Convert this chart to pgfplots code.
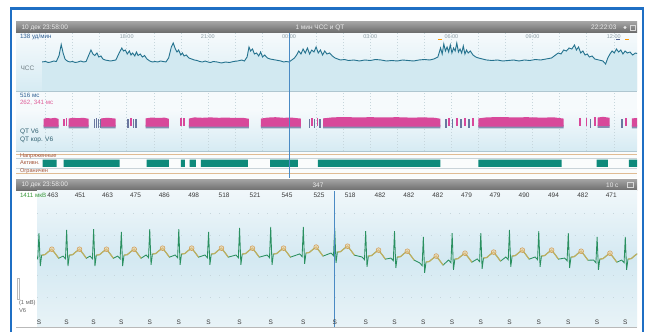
\documentclass[border=0pt]{standalone}
\usepackage{fontspec}
\setmainfont{Liberation Sans}
\usepackage{pgfplots}
\usepackage{pgfplotstable}
\pgfplotsset{compat=1.18}

\definecolor{frameblue}{HTML}{1F6FC4}
\definecolor{hdtop}{HTML}{A2A2A2}
\definecolor{hdbot}{HTML}{6A6A6A}
\definecolor{hrline}{HTML}{24728E}
\definecolor{hrfill}{HTML}{D2E9F1}
\definecolor{bgtop}{HTML}{F6FAFC}
\definecolor{bgblue}{HTML}{D6EBF3}
\definecolor{actbg}{HTML}{FAFCFC}
\definecolor{sepc}{HTML}{AFC6D0}
\definecolor{tanline}{HTML}{E0BC94}
\definecolor{boxline}{HTML}{C9D3D8}
\definecolor{gridc}{HTML}{C6D6DC}
\definecolor{qtpink}{HTML}{D8489A}
\definecolor{qtdark}{HTML}{4E5F8E}
\definecolor{actteal}{HTML}{0E8A7B}
\definecolor{ecggreen}{HTML}{2A9060}
\definecolor{ecgT}{HTML}{D8B45E}
\definecolor{ecgTfill}{HTML}{F2CF98}
\definecolor{ecgTdark}{HTML}{D09A50}
\definecolor{ecgtop}{HTML}{F0F7FA}
\definecolor{ecgmid}{HTML}{D4E9F2}
\definecolor{ecgbot}{HTML}{E8F3F7}
\definecolor{cursorc}{HTML}{4A8AC4}
\definecolor{txtblue}{HTML}{2E5E92}
\definecolor{txtgray}{HTML}{8C9CA4}
\definecolor{labred}{HTML}{A4553A}
\definecolor{qttxt}{HTML}{2F5F6F}
\definecolor{pinktxt}{HTML}{E0609A}
\definecolor{rrtxt}{HTML}{3C3C3C}
\definecolor{greentxt}{HTML}{3A9A3A}

\newcommand{\fs}[1]{\fontsize{#1}{#1}\selectfont}

\pgfplotsset{panel/.style={scale only axis, anchor=south west,
  axis line style={draw=none}, tick style={draw=none},
  xticklabels={}, yticklabels={}, clip=true}}

% heart rate, 1-min values (hour of day, 24 = midnight; bpm)
\pgfplotstableread{
h bpm
14.85 82
15.0 83
15.1 81
15.2 82
15.3 84
15.4 83
15.5 95
15.58 117
15.65 100
15.72 88
15.8 84
15.9 82
16.0 83
16.1 81
16.2 82
16.3 84
16.4 82
16.5 83
16.6 96
16.68 106
16.75 98
16.82 95
16.9 100
16.97 92
17.05 94
17.12 88
17.2 86
17.3 85
17.4 84
17.5 85
17.6 86
17.72 100
17.82 110
17.88 104
17.95 106
18.02 98
18.1 104
18.16 96
18.22 100
18.3 94
18.36 102
18.42 95
18.5 98
18.58 92
18.66 95
18.75 88
18.85 84
18.95 82
19.05 83
19.15 82
19.25 84
19.35 83
19.45 82
19.55 90
19.65 112
19.72 120
19.8 108
19.86 102
19.92 106
20.0 96
20.06 100
20.12 94
20.2 96
20.3 90
20.4 88
20.5 86
20.6 85
20.7 83
20.8 82
20.9 84
21.0 82
21.1 81
21.2 83
21.35 82
21.5 80
21.65 82
21.8 81
21.95 83
22.1 84
22.25 86
22.35 84
22.45 92
22.52 112
22.58 104
22.65 108
22.72 98
22.8 100
22.88 94
22.95 102
23.02 92
23.1 96
23.2 90
23.3 88
23.4 87
23.5 86
23.6 85
23.7 84
23.8 82
23.9 83
24.0 82
24.1 86
24.2 90
24.28 96
24.36 104
24.44 98
24.52 108
24.6 100
24.68 110
24.76 98
24.84 106
24.92 102
25.0 112
25.08 100
25.16 106
25.24 96
25.32 104
25.4 98
25.5 100
25.6 94
25.7 90
25.8 88
25.9 86
26.05 87
26.2 85
26.4 86
26.6 84
26.8 86
27.0 85
27.2 87
27.4 86
27.6 84
27.8 85
28.0 84
28.2 86
28.4 85
28.6 84
28.8 86
29.0 87
29.2 86
29.35 88
29.5 92
29.6 110
29.66 98
29.72 118
29.78 104
29.84 112
29.9 102
29.96 116
30.02 100
30.08 110
30.14 104
30.2 120
30.26 102
30.32 108
30.38 100
30.44 114
30.5 98
30.56 106
30.62 100
30.7 104
30.8 96
30.9 92
31.0 90
31.15 88
31.3 86
31.5 85
31.7 86
31.9 84
32.1 85
32.3 86
32.5 84
32.7 86
32.9 85
33.1 87
33.3 86
33.5 88
33.7 90
33.85 96
33.95 100
34.05 98
34.15 106
34.25 104
34.35 110
34.45 108
34.55 116
34.62 106
34.7 112
34.78 100
34.86 104
34.94 96
35.02 98
35.1 92
35.2 94
35.3 88
35.45 86
35.6 84
35.7 78
35.78 90
35.86 98
35.94 104
36.02 100
36.1 108
36.18 102
36.26 106
36.34 98
36.42 104
36.5 100
36.6 102
36.7 96
36.8 100
36.93 98
}\hrtab

% ECG lead V6: time (s), signal (mV), T-wave part, T apex
\pgfplotstableread{
t v tw tp
0.000 -0.06 nan nan
0.030 -0.21 nan nan
0.050 1.22 nan nan
0.072 -0.61 nan nan
0.095 -0.01 -0.01 nan
0.150 0.02 0.02 nan
0.210 0.19 0.19 nan
0.265 0.32 0.32 0.32
0.320 0.09 0.09 nan
0.380 -0.18 -0.18 nan
0.453 -0.06 nan nan
0.493 -0.21 nan nan
0.513 1.39 nan nan
0.535 -0.61 nan nan
0.558 -0.01 -0.01 nan
0.613 0.02 0.02 nan
0.673 0.19 0.19 nan
0.728 0.32 0.32 0.32
0.783 0.09 0.09 nan
0.843 -0.18 -0.18 nan
0.904 -0.06 nan nan
0.944 -0.21 nan nan
0.964 1.44 nan nan
0.986 -0.61 nan nan
1.009 -0.01 -0.01 nan
1.064 0.02 0.02 nan
1.124 0.19 0.19 nan
1.179 0.32 0.32 0.32
1.234 0.09 0.09 nan
1.294 -0.18 -0.18 nan
1.367 -0.06 nan nan
1.407 -0.21 nan nan
1.427 1.28 nan nan
1.449 -0.61 nan nan
1.472 -0.01 -0.01 nan
1.527 0.02 0.02 nan
1.587 0.19 0.19 nan
1.642 0.32 0.32 0.32
1.697 0.09 0.09 nan
1.757 -0.18 -0.18 nan
1.842 0.00 nan nan
1.882 -0.15 nan nan
1.902 1.44 nan nan
1.924 -0.55 nan nan
1.947 0.05 0.05 nan
2.002 0.08 0.08 nan
2.062 0.25 0.25 nan
2.117 0.38 0.38 0.38
2.172 0.15 0.15 nan
2.232 -0.12 -0.12 nan
2.328 0.00 nan nan
2.368 -0.15 nan nan
2.388 1.44 nan nan
2.410 -0.55 nan nan
2.433 0.05 0.05 nan
2.488 0.08 0.08 nan
2.548 0.25 0.25 nan
2.603 0.38 0.38 0.38
2.658 0.15 0.15 nan
2.718 -0.12 -0.12 nan
2.826 0.00 nan nan
2.866 -0.15 nan nan
2.886 1.28 nan nan
2.908 -0.55 nan nan
2.931 0.05 0.05 nan
2.986 0.08 0.08 nan
3.046 0.25 0.25 nan
3.101 0.38 0.38 0.38
3.156 0.15 0.15 nan
3.216 -0.12 -0.12 nan
3.344 0.00 nan nan
3.384 -0.15 nan nan
3.404 1.50 nan nan
3.426 -0.55 nan nan
3.449 0.05 0.05 nan
3.504 0.08 0.08 nan
3.564 0.25 0.25 nan
3.619 0.38 0.38 0.38
3.674 0.15 0.15 nan
3.734 -0.12 -0.12 nan
3.865 0.00 nan nan
3.905 -0.15 nan nan
3.925 1.56 nan nan
3.947 -0.55 nan nan
3.970 0.05 0.05 nan
4.025 0.08 0.08 nan
4.085 0.25 0.25 nan
4.140 0.38 0.38 0.38
4.195 0.15 0.15 nan
4.255 -0.12 -0.12 nan
4.410 0.06 nan nan
4.450 -0.09 nan nan
4.470 1.56 nan nan
4.492 -0.49 nan nan
4.515 0.11 0.11 nan
4.570 0.14 0.14 nan
4.630 0.31 0.31 nan
4.685 0.44 0.44 0.44
4.740 0.21 0.21 nan
4.800 -0.06 -0.06 nan
4.935 0.11 nan nan
4.975 -0.04 nan nan
4.995 1.50 nan nan
5.017 -0.44 nan nan
5.040 0.16 0.16 nan
5.095 0.19 0.19 nan
5.155 0.36 0.36 nan
5.210 0.49 0.49 0.49
5.265 0.26 0.26 nan
5.325 -0.01 -0.01 nan
5.453 -0.11 nan nan
5.493 -0.26 nan nan
5.513 1.33 nan nan
5.535 -0.66 nan nan
5.558 -0.06 -0.06 nan
5.613 -0.03 -0.03 nan
5.673 0.14 0.14 nan
5.728 0.27 0.27 0.27
5.783 0.04 0.04 nan
5.843 -0.23 -0.23 nan
5.935 -0.17 nan nan
5.975 -0.32 nan nan
5.995 1.33 nan nan
6.017 -0.72 nan nan
6.040 -0.12 -0.12 nan
6.095 -0.09 -0.09 nan
6.155 0.08 0.08 nan
6.210 0.21 0.21 0.21
6.265 -0.02 -0.02 nan
6.325 -0.29 -0.29 nan
6.417 -0.44 nan nan
6.457 -0.59 nan nan
6.477 1.00 nan nan
6.499 -0.99 nan nan
6.522 -0.39 -0.39 nan
6.577 -0.36 -0.36 nan
6.637 -0.19 -0.19 nan
6.692 -0.06 -0.06 -0.06
6.747 -0.29 -0.29 nan
6.807 -0.56 -0.56 nan
6.899 -0.28 nan nan
6.939 -0.43 nan nan
6.959 1.22 nan nan
6.981 -0.83 nan nan
7.004 -0.23 -0.23 nan
7.059 -0.20 -0.20 nan
7.119 -0.03 -0.03 nan
7.174 0.10 0.10 0.10
7.229 -0.13 -0.13 nan
7.289 -0.40 -0.40 nan
7.378 -0.22 nan nan
7.418 -0.37 nan nan
7.438 1.22 nan nan
7.460 -0.77 nan nan
7.483 -0.17 -0.17 nan
7.538 -0.14 -0.14 nan
7.598 0.03 0.03 nan
7.653 0.16 0.16 0.16
7.708 -0.07 -0.07 nan
7.768 -0.34 -0.34 nan
7.857 -0.11 nan nan
7.897 -0.26 nan nan
7.917 1.39 nan nan
7.939 -0.66 nan nan
7.962 -0.06 -0.06 nan
8.017 -0.03 -0.03 nan
8.077 0.14 0.14 nan
8.132 0.27 0.27 0.27
8.187 0.04 0.04 nan
8.247 -0.23 -0.23 nan
8.347 -0.11 nan nan
8.387 -0.26 nan nan
8.407 1.33 nan nan
8.429 -0.66 nan nan
8.452 -0.06 -0.06 nan
8.507 -0.03 -0.03 nan
8.567 0.14 0.14 nan
8.622 0.27 0.27 0.27
8.677 0.04 0.04 nan
8.737 -0.23 -0.23 nan
8.841 -0.17 nan nan
8.881 -0.32 nan nan
8.901 1.22 nan nan
8.923 -0.72 nan nan
8.946 -0.12 -0.12 nan
9.001 -0.09 -0.09 nan
9.061 0.08 0.08 nan
9.116 0.21 0.21 0.21
9.171 -0.02 -0.02 nan
9.231 -0.29 -0.29 nan
9.323 -0.28 nan nan
9.363 -0.43 nan nan
9.383 1.00 nan nan
9.405 -0.83 nan nan
9.428 -0.23 -0.23 nan
9.483 -0.20 -0.20 nan
9.543 -0.03 -0.03 nan
9.598 0.10 0.10 0.10
9.653 -0.13 -0.13 nan
9.713 -0.40 -0.40 nan
9.794 -0.28 nan nan
9.834 -0.43 nan nan
9.854 1.00 nan nan
9.876 -0.83 nan nan
9.899 -0.23 -0.23 nan
9.954 -0.20 -0.20 nan
10.014 -0.03 -0.03 nan
10.069 0.10 0.10 0.10
10.124 -0.13 -0.13 nan
}\ecgtab

% R peaks (s), label row
\pgfplotstableread{
t ly
0.050 -3.72
0.513 -3.72
0.964 -3.72
1.427 -3.72
1.902 -3.72
2.388 -3.72
2.886 -3.72
3.404 -3.72
3.925 -3.72
4.470 -3.72
4.995 -3.72
5.513 -3.72
5.995 -3.72
6.477 -3.72
6.959 -3.72
7.438 -3.72
7.917 -3.72
8.407 -3.72
8.901 -3.72
9.383 -3.72
9.854 -3.72
}\rtab

% RR intervals (ms) at the middle of each interval, label row
\pgfplotstableread{
tm ly rr
0.282 3.33 463
0.739 3.33 451
1.196 3.33 463
1.665 3.33 475
2.145 3.33 486
2.637 3.33 498
3.145 3.33 518
3.665 3.33 521
4.198 3.33 545
4.733 3.33 525
5.254 3.33 518
5.754 3.33 482
6.236 3.33 482
6.718 3.33 482
7.199 3.33 479
7.678 3.33 479
8.162 3.33 490
8.654 3.33 494
9.142 3.33 482
9.619 3.33 471
}\rrtab

\begin{document}
\begin{tikzpicture}[x=1pt,y=1pt]
\useasboundingbox (0,0) rectangle (647,332);
\fill[white] (0,0) rectangle (647,332);

% panel backgrounds
\shade[top color=bgtop, bottom color=bgblue] (16,241) rectangle (637,299);
\fill[bgtop] (16,181) rectangle (637,241);
\shade[top color=bgtop, bottom color=bgblue] (16,181) rectangle (637,222);
\fill[actbg] (16,154) rectangle (637,181);
\draw[sepc, line width=0.8pt] (16,241)--(637,241);
\draw[sepc, line width=0.8pt] (16,180.8)--(637,180.8);
\draw[tanline, line width=0.7pt] (16,178)--(637,178);
\draw[tanline, line width=0.7pt] (16,158.5)--(637,158.5);
\draw[boxline, line width=0.5pt] (16,173.8)--(637,173.8);
\draw[boxline, line width=0.5pt] (16,164)--(637,164);

% header bars
\shade[top color=hdtop, bottom color=hdbot] (16,299) rectangle (637,310);
\shade[top color=hdtop, bottom color=hdbot] (16,141) rectangle (637,152.5);

% ECG background
\fill[white] (16,5) rectangle (37,141);
\shade[top color=ecgtop, bottom color=ecgbot, middle color=ecgmid] (37,5) rectangle (637,141);

% ---------------- heart rate ----------------
\begin{axis}[panel, at={(42pt,241pt)}, width=595pt, height=58pt,
  xmin=14.87, xmax=36.86, ymin=24, ymax=140,
  xtick={15,16,...,36}, ytick=\empty, xmajorgrids,
  grid style={gridc, dash pattern=on 0.5pt off 2.5pt, line width=0.45pt}]
\addplot[fill=hrfill, draw=none] table[x=h, y=bpm]{\hrtab} \closedcycle;
\addplot[hrline, line width=0.9pt] table[x=h, y=bpm]{\hrtab};
\addplot[only marks, mark=-, mark size=2pt, mark options={line width=1.2pt, draw=orange!80!yellow}] coordinates {(29.58,127) (36.49,127)};
\addplot[only marks, mark=-, mark size=2pt, mark options={line width=1.2pt, draw=qtdark}] coordinates {(36.16,127)};
\node[font=\fs{5.5}, text=txtgray] at (axis cs:18,132) {18:00};
\node[font=\fs{5.5}, text=txtgray] at (axis cs:21,132) {21:00};
\node[font=\fs{5.5}, text=txtgray] at (axis cs:24,132) {00:00};
\node[font=\fs{5.5}, text=txtgray] at (axis cs:27,132) {03:00};
\node[font=\fs{5.5}, text=txtgray] at (axis cs:30,132) {06:00};
\node[font=\fs{5.5}, text=txtgray] at (axis cs:33,132) {09:00};
\node[font=\fs{5.5}, text=txtgray] at (axis cs:36,132) {12:00};
\end{axis}

% ---------------- QT ----------------
\begin{axis}[panel, at={(42pt,181pt)}, width=595pt, height=59pt,
  xmin=14.87, xmax=36.86, ymin=231, ymax=526,
  xtick={15,16,...,36}, ytick=\empty, xmajorgrids,
  grid style={gridc, dash pattern=on 0.5pt off 2.5pt, line width=0.45pt}]
\addplot[fill=qtdark!70, draw=none, unbounded coords=jump] coordinates {
(14.93,344)(15.48,344)(15.48,362)(14.93,362) (nan,nan)
(15.85,344)(16.59,344)(16.59,362)(15.85,362) (nan,nan)
(17.05,344)(17.59,344)(17.59,362)(17.05,362) (nan,nan)
(18.70,344)(19.56,344)(19.56,362)(18.70,362) (nan,nan)
(20.30,344)(22.52,344)(22.52,362)(20.30,362) (nan,nan)
(22.96,344)(24.44,344)(24.44,362)(22.96,362) (nan,nan)
(25.26,344)(29.59,344)(29.59,362)(25.26,362) (nan,nan)
(31.00,344)(34.15,344)(34.15,362)(31.00,362) (nan,nan)
(35.40,346)(35.85,346)(35.85,362)(35.40,362) (nan,nan)
(36.67,344)(36.86,344)(36.86,362)(36.67,362)
};
\addplot[fill=qtpink, draw=none, unbounded coords=jump] coordinates {
(14.93,353)(14.93,392)(15.05,396)(15.2,394)(15.35,397)(15.48,391)(15.48,353) (nan,nan)
(15.85,353)(15.85,393)(16.0,397)(16.2,395)(16.4,397)(16.59,392)(16.59,353) (nan,nan)
(17.05,353)(17.05,394)(17.3,397)(17.59,393)(17.59,353) (nan,nan)
(18.70,353)(18.70,394)(18.9,398)(19.2,396)(19.4,398)(19.56,392)(19.56,353) (nan,nan)
(20.30,353)(20.30,393)(20.5,399)(20.8,397)(21.1,399)(21.4,397)(21.7,398)(22.0,396)(22.3,397)(22.52,392)(22.52,353) (nan,nan)
(22.96,353)(22.96,393)(23.2,398)(23.5,400)(23.8,397)(24.1,398)(24.44,393)(24.44,353) (nan,nan)
(25.26,353)(25.26,394)(25.6,399)(26.0,401)(26.5,399)(27.0,400)(27.5,399)(28.0,400)(28.5,398)(29.0,399)(29.4,397)(29.59,392)(29.59,353) (nan,nan)
(31.00,353)(31.00,394)(31.3,399)(31.8,401)(32.3,399)(32.8,400)(33.3,398)(33.8,399)(34.15,393)(34.15,353) (nan,nan)
(35.40,355)(35.40,398)(35.6,402)(35.85,397)(35.85,355) (nan,nan)
(36.67,353)(36.67,394)(36.86,396)(36.86,353)
};
\addplot[qtpink, line width=1.5pt, unbounded coords=jump] coordinates {
(15.68,356)(15.68,393) (nan,nan) (15.78,356)(15.78,395) (nan,nan)
(18.15,356)(18.15,394) (nan,nan) (20.00,356)(20.00,395) (nan,nan)
(20.12,356)(20.12,397) (nan,nan) (24.85,356)(24.85,396) (nan,nan)
(25.05,356)(25.05,398) (nan,nan) (29.92,356)(29.92,396) (nan,nan)
(30.20,356)(30.20,398) (nan,nan) (30.50,356)(30.50,396) (nan,nan)
(30.80,356)(30.80,397) (nan,nan) (34.75,356)(34.75,394) (nan,nan)
(35.00,356)(35.00,396) (nan,nan) (35.30,356)(35.30,399) (nan,nan)
(36.45,356)(36.45,397)
};
\addplot[qtdark!85, line width=1.4pt, unbounded coords=jump] coordinates {
(16.80,348)(16.80,392) (nan,nan) (16.88,348)(16.88,394) (nan,nan)
(16.96,348)(16.96,393) (nan,nan) (17.03,348)(17.03,392) (nan,nan)
(18.05,348)(18.05,390) (nan,nan) (18.25,348)(18.25,392) (nan,nan)
(18.35,348)(18.35,391) (nan,nan) (24.75,348)(24.75,392) (nan,nan)
(24.95,348)(24.95,393) (nan,nan) (25.15,348)(25.15,391) (nan,nan)
(29.80,348)(29.80,392) (nan,nan) (30.05,348)(30.05,393) (nan,nan)
(30.35,348)(30.35,391) (nan,nan) (30.65,348)(30.65,392) (nan,nan)
(35.15,348)(35.15,390) (nan,nan) (36.30,348)(36.30,391)
};
\end{axis}

% ---------------- activity ----------------
\begin{axis}[panel, at={(42pt,154pt)}, width=595pt, height=26pt,
  xmin=14.87, xmax=36.86, ymin=0, ymax=3, xtick=\empty, ytick=\empty]
\addplot[fill=actteal, draw=none, unbounded coords=jump] coordinates {
(14.89,1.27)(15.41,1.27)(15.41,2.13)(14.89,2.13) (nan,nan)
(15.67,1.27)(17.74,1.27)(17.74,2.13)(15.67,2.13) (nan,nan)
(18.74,1.27)(19.56,1.27)(19.56,2.13)(18.74,2.13) (nan,nan)
(20.00,1.27)(20.15,1.27)(20.15,2.13)(20.00,2.13) (nan,nan)
(20.33,1.27)(20.56,1.27)(20.56,2.13)(20.33,2.13) (nan,nan)
(20.74,1.27)(22.48,1.27)(22.48,2.13)(20.74,2.13) (nan,nan)
(23.30,1.27)(24.33,1.27)(24.33,2.13)(23.30,2.13) (nan,nan)
(25.07,1.27)(29.59,1.27)(29.59,2.13)(25.07,2.13) (nan,nan)
(31.00,1.27)(34.07,1.27)(34.07,2.13)(31.00,2.13) (nan,nan)
(35.37,1.27)(35.78,1.27)(35.78,2.13)(35.37,2.13) (nan,nan)
(36.56,1.27)(36.93,1.27)(36.93,2.13)(36.56,2.13)
};
\end{axis}

% ---------------- ECG ----------------
\begin{axis}[panel, at={(37pt,5pt)}, width=600pt, height=136pt,
  xmin=0.017, xmax=10.05, ymin=-4, ymax=3.556,
  xtick=\empty, ytick={-2.33,-1.11,1.11,2.33}, ymajorgrids,
  grid style={gridc, dash pattern=on 0.8pt off 8.8pt, line width=0.8pt}]
\addplot[ecggreen, line width=0.85pt] table[x=t, y=v]{\ecgtab};
\addplot[ecgT, line width=1.2pt, opacity=0.85, unbounded coords=jump] table[x=t, y=tw]{\ecgtab};
\addplot[only marks, mark=*, mark size=2.4pt, mark options={draw=ecgTdark, fill=ecgTfill, fill opacity=0.55, line width=0.5pt}] table[x=t, y=tp]{\ecgtab};
\draw[cursorc, line width=1pt] (axis cs:4.995,-4) -- (axis cs:4.995,3.556);
\addplot[draw=none, mark=none, nodes near coords={S}, every node near coord/.append style={anchor=center, font=\fs{6.5}, text=rrtxt}] table[x=t, y=ly]{\rtab};
\addplot[draw=none, mark=none, nodes near coords, point meta=explicit symbolic, every node near coord/.append style={anchor=center, font=\fs{6.5}, text=rrtxt}] table[x=tm, y=ly, meta=rr]{\rrtab};
\end{axis}

% cursor in the trend panels
\draw[cursorc, line width=1pt] (289,299) -- (289,154);

% header texts
\node[anchor=west, font=\fs{6.5}, text=white!92!black] at (18,304.5) {10 дек 23:58:00};
\node[font=\fs{6.5}, text=white!92!black] at (320,304.5) {1 мин ЧСС и QT};
\node[anchor=east, font=\fs{6.5}, text=white!92!black] at (620,304.5) {22:22:03};
\fill[white!90!black] (625,304.5) circle (1.6);
\draw[white!85!black, line width=0.6pt] (630,302) rectangle (635,307);
\node[anchor=west, font=\fs{6.5}, text=white!92!black] at (18,146.8) {10 дек 23:58:00};
\node[font=\fs{6.5}, text=white!92!black] at (318,146.8) {347};
\node[anchor=east, font=\fs{6.5}, text=white!92!black] at (622,146.8) {10 с};
\draw[white!85!black, line width=0.6pt] (627,144.3) rectangle (633,149.3);

% left labels
\node[anchor=west, font=\fs{6.2}, text=txtblue] at (16.5,295) {138 уд/мин};
\node[anchor=west, font=\fs{6.5}, text=txtgray!80!black] at (17,264) {ЧСС};
\node[anchor=west, font=\fs{6.2}, text=txtblue] at (16.5,237) {516 мс};
\node[anchor=west, font=\fs{6.2}, text=pinktxt] at (16.5,229) {262, 341 мс};
\node[anchor=west, font=\fs{6.5}, text=qttxt] at (16.5,200) {QT V6};
\node[anchor=west, font=\fs{6.5}, text=qttxt] at (16.5,192.5) {QT кор. V6};
\node[anchor=west, font=\fs{5.6}, text=labred] at (16.5,176.3) {Напряженные};
\node[anchor=west, font=\fs{5.6}, text=labred] at (16.5,169) {Активн.};
\node[anchor=west, font=\fs{5.6}, text=labred] at (16.5,161.3) {Ограничен};
\node[anchor=west, font=\fs{6.2}, text=greentxt] at (16.5,137) {1411 мкВ};
\draw[gray!55, line width=0.7pt] (17.5,33) rectangle (19.5,54);
\node[anchor=west, font=\fs{5.8}, text=gray!80!black] at (15.5,29) {(1 мВ)};
\node[anchor=west, font=\fs{5.8}, text=gray!80!black] at (15.5,21) {V6};

% bottom line and frame
\draw[gray!55, line width=1.5pt] (16,4.5) -- (637,4.5);
\draw[frameblue, line width=2.5pt] (10.8,0) -- (10.8,323.3) -- (642.8,323.3) -- (642.8,0);
\end{tikzpicture}
\end{document}
